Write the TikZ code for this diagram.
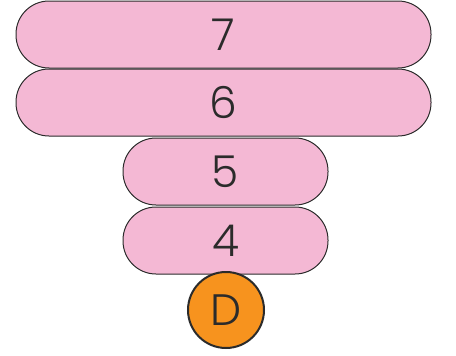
\documentclass[tikz,border=0pt]{standalone}
\usepackage{fontspec}
\setmainfont{Poppins}[UprightFont=* Light]
\usetikzlibrary{positioning}
\definecolor{ink}{HTML}{2B2B2B}
\definecolor{rose}{HTML}{F4B8D4}
\definecolor{amber}{HTML}{F7931E}

\tikzset{
  level/.style={draw=ink,line width=1pt,fill=rose,rounded corners=33pt,
    minimum height=67pt,inner sep=0pt,text=ink,
    font=\fontsize{44}{44}\selectfont},
  wide/.style={level,minimum width=415pt},
  narrow/.style={level,minimum width=205pt},
  dot/.style={circle,draw=ink,line width=2pt,fill=amber,minimum size=76pt,
    inner sep=0pt,text=ink,font=\fontsize{44}{44}\selectfont}
}

\begin{document}
\begin{tikzpicture}[x=1pt,y=-1pt]
  \useasboundingbox (0,0) rectangle (456,356);

  \node[wide] (l7) at (223.5,34.5) {7};
  \node[wide] (l6) at (223.5,102.5) {6};
  \node[narrow] (l5) at (225.5,171.5) {5};
  \node[narrow] (l4) at (225.5,240.5) {4};
  \node[dot] (d) at (226,310) {D};
\end{tikzpicture}
\end{document}
